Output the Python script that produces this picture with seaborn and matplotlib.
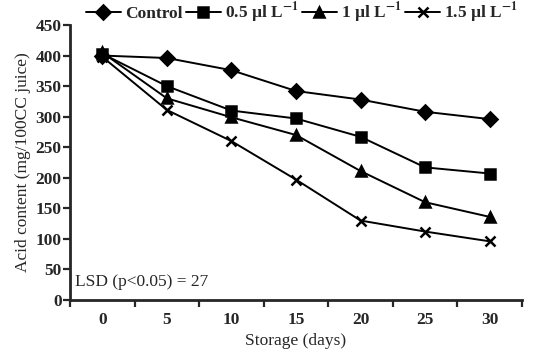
import numpy as np
import pandas as pd
import matplotlib
matplotlib.use("Agg")
import matplotlib.pyplot as plt
import seaborn as sns
from matplotlib.ticker import FixedLocator

days = [0, 5, 10, 15, 20, 25, 30]
control = [400, 396, 376, 342, 328, 308, 296]
dose_05 = [403, 350, 310, 297, 267, 217, 207]
dose_1 = [405, 330, 299, 270, 211, 160, 136]
dose_15 = [398, 311, 260, 197, 130, 112, 96]
series_names = ["Control", "0.5 µl L$^{-1}$", "1 µl L$^{-1}$", "1.5 µl L$^{-1}$"]
markers = ["D", "s", "^", "x"]

sns.set_style("ticks")
plt.rcParams["font.family"] = ["Liberation Serif", "DejaVu Serif"]
plt.rcParams["font.weight"] = "bold"
plt.rcParams["mathtext.fontset"] = "stix"
plt.rcParams["mathtext.default"] = "bf"

fig = plt.figure(figsize=(5.57, 3.55), dpi=100)
ax = fig.add_axes([70 / 557, 1 - 300 / 355, 452 / 557, 275 / 355])

pos = np.arange(len(days))
sizes = [7, 6.5, 7.5, 6.5]
for name, vals, mk, ms in zip(series_names, [control, dose_05, dose_1, dose_15], markers, sizes):
    sns.lineplot(x=pos, y=vals, color="black", marker=mk, markersize=ms,
                 linewidth=1.4, markeredgecolor="black", markeredgewidth=1.8,
                 label=name, ax=ax)

ax.set_xlim(-0.5, 6.5)
ax.set_ylim(0, 450)
ax.set_yticks(np.arange(0, 451, 50))
ax.set_xticks(pos)
ax.set_xticklabels([str(d) for d in days])
ax.xaxis.set_minor_locator(FixedLocator(np.arange(-0.5, 7, 1)))
ax.tick_params(axis="x", which="major", length=0, labelsize=12.5, pad=9)
ax.tick_params(axis="x", which="minor", length=5, width=1.6, direction="out")
ax.tick_params(axis="y", length=5, width=1.6, labelsize=12.5, pad=1)
for s in ["top", "right"]:
    ax.spines[s].set_visible(False)
for s in ["left", "bottom"]:
    ax.spines[s].set_linewidth(2)

ax.set_xlabel("Storage (days)", fontsize=12.5, labelpad=3)
ax.set_ylabel("Acid content (mg/100CC juice)", fontsize=12.5, labelpad=3)

ax.text(-0.42, 29, "LSD (p<0.05) = 27", fontsize=12.5, va="center", ha="left",
        fontweight="normal")

handles, labels = ax.get_legend_handles_labels()
ax.legend(handles, labels, loc="lower left", bbox_to_anchor=(0.02, 0.975),
          ncol=4, frameon=False, fontsize=12.5, handlelength=2.0,
          handletextpad=0.25, columnspacing=0.2, borderaxespad=0)

fig.savefig("out.png", dpi=100)
